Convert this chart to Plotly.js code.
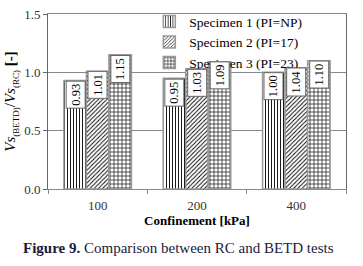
<!DOCTYPE html>
<html><head><meta charset="utf-8">
<script src="https://cdn.plot.ly/plotly-3.0.1.min.js"></script>
<style>html,body{margin:0;padding:0;background:#fff}#c{width:363px;height:266px}</style>
</head><body><div id="c"></div><script>
const categories = ['100', '200', '400'];
const seriesNames = ['Specimen 1 (PI=NP)', 'Specimen 2 (PI=17)', 'Specimen 3 (PI=23)'];
const specimen1 = [0.93, 0.95, 1.00];
const specimen2 = [1.01, 1.03, 1.04];
const specimen3 = [1.15, 1.09, 1.10];
const yTicks = [0, 0.5, 1.0, 1.5];
const yTickLabels = ['0.0', '0.5', '1.0', '1.5'];

const series = [specimen1, specimen2, specimen3];
const shapes = ['|', '/', '+'];
const patSize = [3, 3, 4];
const BARGAP = 0.32;
const FONT = 'Liberation Serif';

const traces = series.map((vals, k) => ({
  type: 'bar', name: seriesNames[k], x: categories, y: vals,
  marker: {color: '#fff', line: {color: '#999', width: 1.5},
    pattern: {shape: shapes[k], fgcolor: '#000', bgcolor: '#fff', size: patSize[k], solidity: 0.3}},
  hoverinfo: 'skip'
}));

const w = (1 - BARGAP) / series.length;
const annotations = [];
series.forEach((vals, k) => vals.forEach((v, i) => {
  annotations.push({x: i + (k - 1) * w, y: v, xref: 'x', yref: 'y', yanchor: 'top', xanchor: 'center',
    text: v.toFixed(2), textangle: -90, showarrow: false, bgcolor: '#fff',
    bordercolor: '#666', borderwidth: 1, borderpad: 2,
    font: {family: FONT, size: 12.5, color: '#000'}});
}));
annotations.push({xref: 'paper', yref: 'paper', x: 0.438, y: -0.337, xanchor: 'center', yanchor: 'middle', showarrow: false,
  text: '<b>Figure 9.</b> Comparison between RC and BETD tests', font: {family: FONT, size: 15, color: '#1a1a3a'}});

const layout = {
  width: 363, height: 266, margin: {l: 48, r: 17, t: 14, b: 77, autoexpand: false},
  paper_bgcolor: '#fff', plot_bgcolor: '#fff',
  barmode: 'group', bargap: BARGAP, bargroupgap: 0,
  showlegend: true,
  legend: {x: 0.34, y: 1.045, xanchor: 'left', yanchor: 'top', bgcolor: 'rgba(255,255,255,0)', borderwidth: 0,
    font: {family: FONT, size: 13.5, color: '#000'}, tracegroupgap: 0, itemwidth: 30},
  font: {family: FONT, size: 13, color: '#000'},
  xaxis: {type: 'category', showline: true, linecolor: '#888', linewidth: 1, mirror: true,
    ticks: 'outside', tickson: 'boundaries', ticklen: 4, tickcolor: '#888', ticklabelstandoff: 4,
    tickfont: {family: FONT, size: 13, color: '#333'},
    title: {text: '<b>Confinement [kPa]</b>', font: {family: FONT, size: 13, color: '#000'}, standoff: 4}},
  yaxis: {range: [0, 1.5], tickvals: yTicks, ticktext: yTickLabels, showline: true, linecolor: '#666', mirror: true,
    ticks: 'outside', ticklen: 4, tickcolor: '#666', showgrid: true, gridcolor: '#888', gridwidth: 1,
    zeroline: false, tickfont: {family: FONT, size: 13, color: '#333'},
    title: {text: '<i>Vs</i><sub><span style="font-size:9px">(BETD)</span></sub>/<i>Vs</i><sub><span style="font-size:9px">(RC)</span></sub> <b>[-]</b>',
      font: {family: FONT, size: 15, color: '#000'}, standoff: 4}},
  annotations: annotations
};
Plotly.newPlot('c', traces, layout, {staticPlot: true, displayModeBar: false});
</script></body></html>
